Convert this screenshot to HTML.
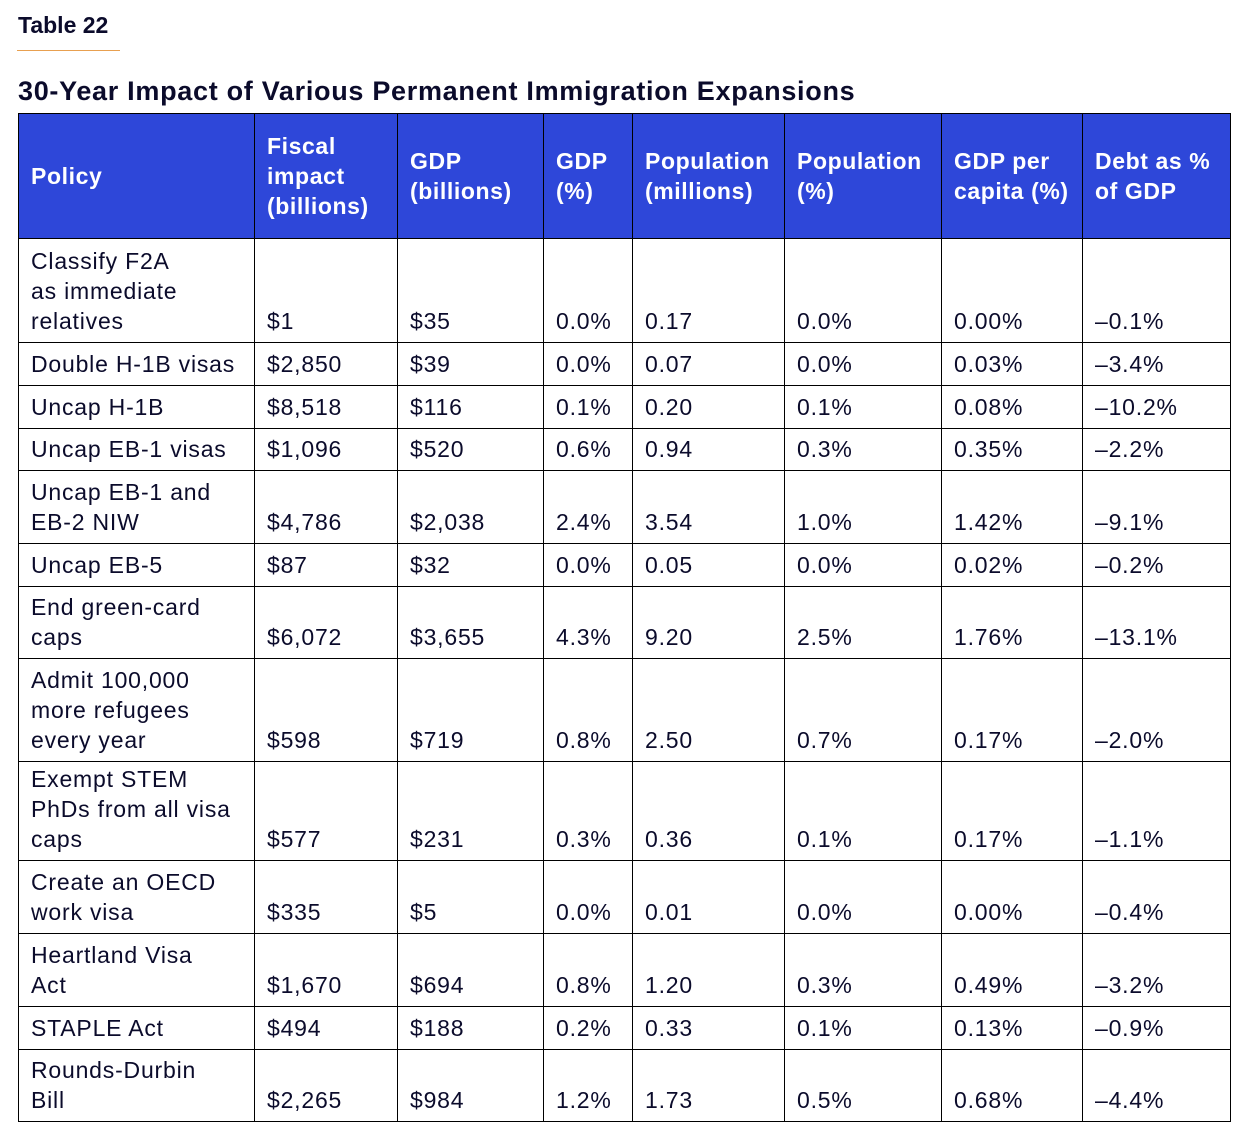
<!DOCTYPE html>
<html><head><meta charset="utf-8"><style>
body{margin:0;width:1252px;height:1139px;background:#fff;font-family:"Liberation Sans",sans-serif;color:#0b0b2b;position:relative;overflow:hidden}
#lbl{position:absolute;left:18px;top:12px;font-size:23px;font-weight:bold}
#rule{position:absolute;left:17px;top:50px;width:103px;height:1px;background:#e8a050}
#ttl{position:absolute;left:18px;top:76px;font-size:27px;font-weight:bold;letter-spacing:0.7px}
table{position:absolute;left:18px;top:113px;border-collapse:collapse;table-layout:fixed;width:1213px}
td,th{border:1.5px solid #000;padding:0 0 6px 12px;font-size:23px;line-height:30px;vertical-align:bottom;text-align:left;font-weight:normal;letter-spacing:0.8px;white-space:nowrap}
th{background:#2e47d9;color:#fff;font-weight:bold;vertical-align:middle;padding:0 0 0 12px;letter-spacing:0.6px}
</style></head><body>
<div id="lbl">Table 22</div>
<div id="rule"></div>
<div id="ttl">30-Year Impact of Various Permanent Immigration Expansions</div>
<table>
<colgroup><col style="width:236px"><col style="width:143px"><col style="width:146px"><col style="width:89px"><col style="width:152px"><col style="width:157px"><col style="width:141px"><col style="width:148px"></colgroup>
<tr style="height:125px"><th>Policy</th><th>Fiscal<br>impact<br>(billions)</th><th>GDP<br>(billions)</th><th>GDP<br>(%)</th><th>Population<br>(millions)</th><th>Population<br>(%)</th><th>GDP per<br>capita (%)</th><th>Debt as %<br>of GDP</th></tr>
<tr style="height:104px"><td>Classify F2A<br>as immediate<br>relatives</td><td>$1</td><td>$35</td><td>0.0%</td><td>0.17</td><td>0.0%</td><td>0.00%</td><td>–0.1%</td></tr>
<tr style="height:43px"><td>Double H-1B visas</td><td>$2,850</td><td>$39</td><td>0.0%</td><td>0.07</td><td>0.0%</td><td>0.03%</td><td>–3.4%</td></tr>
<tr style="height:43px"><td>Uncap H-1B</td><td>$8,518</td><td>$116</td><td>0.1%</td><td>0.20</td><td>0.1%</td><td>0.08%</td><td>–10.2%</td></tr>
<tr style="height:42px"><td>Uncap EB-1 visas</td><td>$1,096</td><td>$520</td><td>0.6%</td><td>0.94</td><td>0.3%</td><td>0.35%</td><td>–2.2%</td></tr>
<tr style="height:73px"><td>Uncap EB-1 and<br>EB-2 NIW</td><td>$4,786</td><td>$2,038</td><td>2.4%</td><td>3.54</td><td>1.0%</td><td>1.42%</td><td>–9.1%</td></tr>
<tr style="height:43px"><td>Uncap EB-5</td><td>$87</td><td>$32</td><td>0.0%</td><td>0.05</td><td>0.0%</td><td>0.02%</td><td>–0.2%</td></tr>
<tr style="height:72px"><td>End green-card<br>caps</td><td>$6,072</td><td>$3,655</td><td>4.3%</td><td>9.20</td><td>2.5%</td><td>1.76%</td><td>–13.1%</td></tr>
<tr style="height:103px"><td>Admit 100,000<br>more refugees<br>every year</td><td>$598</td><td>$719</td><td>0.8%</td><td>2.50</td><td>0.7%</td><td>0.17%</td><td>–2.0%</td></tr>
<tr style="height:99px"><td>Exempt STEM<br>PhDs from all visa<br>caps</td><td>$577</td><td>$231</td><td>0.3%</td><td>0.36</td><td>0.1%</td><td>0.17%</td><td>–1.1%</td></tr>
<tr style="height:73px"><td>Create an OECD<br>work visa</td><td>$335</td><td>$5</td><td>0.0%</td><td>0.01</td><td>0.0%</td><td>0.00%</td><td>–0.4%</td></tr>
<tr style="height:73px"><td>Heartland Visa<br>Act</td><td>$1,670</td><td>$694</td><td>0.8%</td><td>1.20</td><td>0.3%</td><td>0.49%</td><td>–3.2%</td></tr>
<tr style="height:43px"><td>STAPLE Act</td><td>$494</td><td>$188</td><td>0.2%</td><td>0.33</td><td>0.1%</td><td>0.13%</td><td>–0.9%</td></tr>
<tr style="height:72px"><td>Rounds-Durbin<br>Bill</td><td>$2,265</td><td>$984</td><td>1.2%</td><td>1.73</td><td>0.5%</td><td>0.68%</td><td>–4.4%</td></tr>
</table>
</body></html>
